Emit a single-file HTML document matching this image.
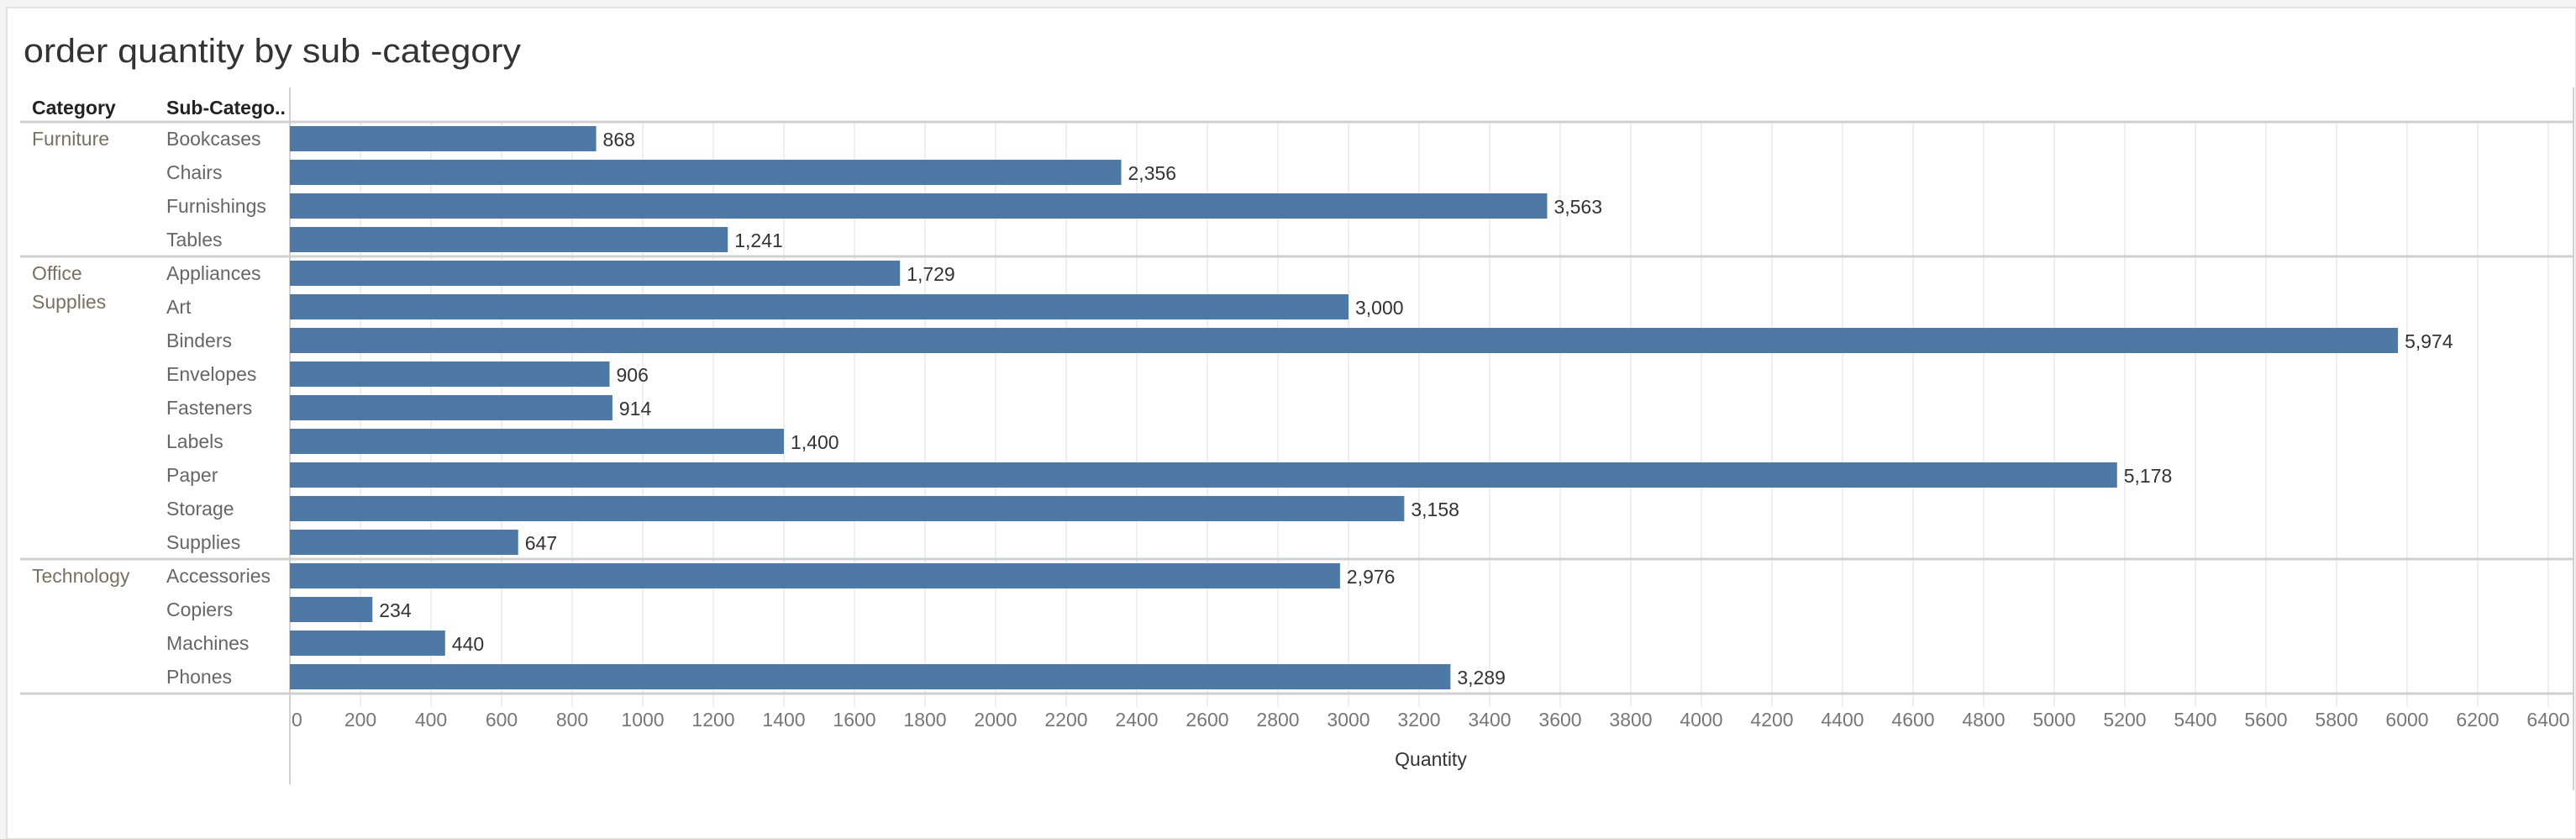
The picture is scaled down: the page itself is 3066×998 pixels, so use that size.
<!DOCTYPE html>
<html><head><meta charset="utf-8"><style>
html,body{margin:0;padding:0;background:#f4f4f4;}
svg{display:block;font-family:"Liberation Sans",sans-serif;}
</style></head><body>
<svg id="chart" width="3066" height="998" viewBox="0 0 3066 998">
<rect x="8" y="9" width="3058" height="989" fill="#ffffff" stroke="#e2e2e2" stroke-width="2"/>
<text x="28" y="74" font-size="40" fill="#333" textLength="592" lengthAdjust="spacingAndGlyphs">order quantity by sub -category</text>
<text x="38" y="136" font-size="23" font-weight="bold" fill="#222">Category</text>
<text x="198" y="136" font-size="23" font-weight="bold" fill="#222">Sub-Catego..</text>
<g id="grid"></g><g id="rows"></g><g id="bars"></g><g id="axis"></g>
<text x="1703" y="911" font-size="23" fill="#333" text-anchor="middle">Quantity</text>
</svg>
<script>
const categories=["Furniture","Office Supplies","Technology"];
const subCategories=["Bookcases","Chairs","Furnishings","Tables","Appliances","Art","Binders","Envelopes","Fasteners","Labels","Paper","Storage","Supplies","Accessories","Copiers","Machines","Phones"];
const subCategoryGroup=[0,0,0,0,1,1,1,1,1,1,1,1,1,2,2,2,2];
const quantities=[868,2356,3563,1241,1729,3000,5974,906,914,1400,5178,3158,647,2976,234,440,3289];
const ticks=[0,200,400,600,800,1000,1200,1400,1600,1800,2000,2200,2400,2600,2800,3000,3200,3400,3600,3800,4000,4200,4400,4600,4800,5000,5200,5400,5600,5800,6000,6200,6400];
const NS="http://www.w3.org/2000/svg";
const X0=345,PX=0.4200,TOP=145,ROWH=40,BARH=30;
const x=v=>X0+v*PX;
const y=i=>TOP+i*ROWH;
function mk(tag,attrs,parent,txt){const e=document.createElementNS(NS,tag);for(const k in attrs)e.setAttribute(k,attrs[k]);if(txt!==undefined)e.textContent=txt;parent.appendChild(e);return e;}
const grid=document.getElementById('grid'),rows=document.getElementById('rows'),bars=document.getElementById('bars'),axis=document.getElementById('axis');
const bottom=y(subCategories.length);
ticks.forEach(t=>{
  const g=mk('line',{x1:x(t),x2:x(t),y1:TOP,y2:bottom+16,stroke:'#efefef','stroke-width':2},grid);
  
  
  const l=mk('text',{x:t===0?x(t)+2:x(t),y:864,'font-size':23,fill:'#777','text-anchor':t===0?'start':'middle'},axis,String(t));
  
  
});
const lines=[TOP];
subCategoryGroup.forEach((g,i)=>{if(i>0&&g!==subCategoryGroup[i-1])lines.push(y(i));});
lines.push(bottom);
lines.forEach((ly,k)=>{
  const l=mk('line',{x1:24,x2:3063,y1:ly,y2:ly,stroke:'#d0d0d0','stroke-width':3},rows);
  
  
});
const vl=mk('line',{x1:X0,x2:X0,y1:104,y2:933,stroke:'#d0d0d0','stroke-width':2},rows);


const rl=mk('line',{x1:3063,x2:3063,y1:104,y2:940,stroke:'#d0d0d0','stroke-width':2},rows);


categories.forEach((c,ci)=>{
  const first=subCategoryGroup.indexOf(ci);
  const words=c.split(' ');
  words.forEach((w,wi)=>{
    const t=mk('text',{x:38,y:y(first)+28+wi*34,'font-size':23,fill:'#7a7060'},rows,w);
    
    
  });
});
subCategories.forEach((s,i)=>{
  const t=mk('text',{x:198,y:y(i)+28,'font-size':23,fill:'#666'},rows,s);
  
  
  const b=mk('rect',{x:X0,y:y(i)+5,width:x(quantities[i])-X0,height:BARH,fill:'#4e79a7'},bars);
  
  
  const v=mk('text',{x:x(quantities[i])+8,y:y(i)+29,'font-size':23,fill:'#333'},bars,quantities[i].toLocaleString('en-US'));
  
  
});
</script>
</body></html>
